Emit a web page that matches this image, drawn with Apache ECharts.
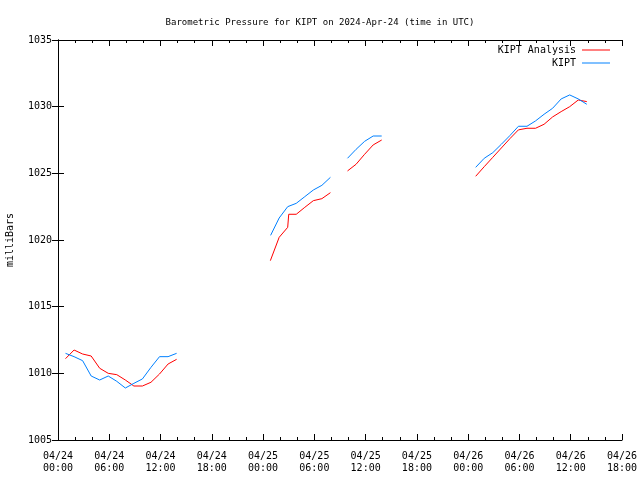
<!DOCTYPE html>
<html>
<head>
<meta charset="utf-8">
<script src="https://cdn.jsdelivr.net/npm/echarts@6/dist/echarts.min.js"></script>
<style>
html,body{margin:0;padding:0;background:#fff;}
#chart{width:640px;height:480px;}
</style>
</head>
<body>
<div id="chart"></div>
<script>
// Hours since 2024-04-24 00:00 UTC
const analysisHours = [0.88,1.88,2.88,3.88,4.88,5.88,6.88,7.88,8.88,9.88,10.88,11.88,12.88,13.88,
  18,
  24.85,25.88,26.88,27.0,27.88,28.88,29.88,30.88,31.88,
  32.88,
  33.88,34.88,35.88,36.88,37.88,
  43,
  48.88,49.88,50.88,51.88,52.88,53.88,54.88,55.88,56.88,57.88,58.88,59.88,60.88,61.88];
const analysisValues = [1011.1,1011.75,1011.45,1011.3,1010.38,1010.0,1009.9,1009.5,1009.05,1009.05,1009.33,1009.95,1010.7,1011.05,
  null,
  1018.45,1020.2,1020.95,1021.93,1021.93,1022.45,1022.95,1023.1,1023.55,
  null,
  1025.18,1025.68,1026.43,1027.13,1027.5,
  null,
  1024.78,1025.5,1026.2,1026.9,1027.6,1028.26,1028.38,1028.38,1028.68,1029.23,1029.63,1030.0,1030.5,1030.38];

const kiptHours = [0.88,1.88,2.88,3.88,4.88,5.88,6.88,7.88,8.88,9.88,10.88,11.88,12.88,13.88,
  18,
  24.88,25.88,26.88,27.88,28.88,29.88,30.88,31.88,
  32.88,
  33.88,34.88,35.88,36.88,37.88,
  43,
  48.88,49.88,50.88,51.88,52.88,53.88,54.88,55.88,56.88,57.88,58.88,59.88,60.88,61.88];
const kiptValues = [1011.5,1011.25,1010.95,1009.8,1009.5,1009.8,1009.4,1008.9,1009.25,1009.58,1010.45,1011.25,1011.25,1011.5,
  null,
  1020.35,1021.65,1022.5,1022.75,1023.25,1023.75,1024.1,1024.7,
  null,
  1026.13,1026.8,1027.4,1027.8,1027.8,
  null,
  1025.45,1026.13,1026.55,1027.18,1027.83,1028.53,1028.53,1028.93,1029.43,1029.88,1030.58,1030.88,1030.58,1030.18];

const xTickLabels = ["04/24\n00:00","04/24\n06:00","04/24\n12:00","04/24\n18:00",
  "04/25\n00:00","04/25\n06:00","04/25\n12:00","04/25\n18:00",
  "04/26\n00:00","04/26\n06:00","04/26\n12:00","04/26\n18:00"];
const yTickLabels = ["1005","1010","1015","1020","1025","1030","1035"];

const titleText = "Barometric Pressure for KIPT on 2024-Apr-24 (time in UTC)";
const seriesNames = ["KIPT Analysis","KIPT"];

const FONT = "DejaVu Sans Mono";
const pair = (xs, ys) => xs.map((x, i) => [x, ys[i]]);

const chart = echarts.init(document.getElementById('chart'), null, {renderer: 'canvas'});
const axisLine = {show: true, lineStyle: {color: '#000', width: 1}};
const tickCommon = {show: true, inside: true, length: 6, lineStyle: {color: '#000', width: 1}};
const minorCommon = {show: true, splitNumber: 3, length: 3, lineStyle: {color: '#000', width: 1}};

chart.setOption({
  animation: false,
  backgroundColor: '#fff',
  title: {
    text: titleText, left: 'center', top: 13,
    textStyle: {fontFamily: FONT, fontSize: 9, fontWeight: 'normal', color: '#000'}
  },
  legend: [
    {data: [seriesNames[0]], right: 25, top: 40, orient: 'vertical', align: 'right',
     icon: 'rect', itemWidth: 28, itemHeight: 1, itemGap: 4,
     textStyle: {fontFamily: FONT, fontSize: 10, color: '#000', padding: [0, 1, 0, 0]}},
    {data: [seriesNames[1]], right: 25, top: 53, orient: 'vertical', align: 'right',
     icon: 'rect', itemWidth: 28, itemHeight: 1, itemGap: 4,
     textStyle: {fontFamily: FONT, fontSize: 10, color: '#000', padding: [0, 1, 0, 0]}}
  ],
  grid: {left: 58, right: 18, top: 40, bottom: 40, containLabel: false, outerBoundsMode: 'none'},
  xAxis: [
    {type: 'value', min: 0, max: 66, interval: 6, position: 'bottom',
     axisLine: axisLine, axisTick: tickCommon, minorTick: minorCommon,
     splitLine: {show: false},
     axisLabel: {margin: 10, fontFamily: FONT, fontSize: 10, color: '#000', lineHeight: 12,
       formatter: v => xTickLabels[Math.round(v / 6)] || ''}},
    {type: 'value', min: 0, max: 66, interval: 6, position: 'top',
     axisLine: axisLine, axisTick: tickCommon, minorTick: minorCommon,
     splitLine: {show: false}, axisLabel: {show: false}}
  ],
  yAxis: [
    {type: 'value', min: 1005, max: 1035, interval: 5, position: 'left',
     name: 'milliBars', nameLocation: 'middle', nameGap: 43, nameRotate: 90,
     nameTextStyle: {fontFamily: FONT, fontSize: 10, color: '#000'},
     axisLine: axisLine, axisTick: tickCommon, splitLine: {show: false},
     axisLabel: {margin: 6, fontFamily: FONT, fontSize: 10, color: '#000',
       formatter: v => yTickLabels[Math.round((v - 1005) / 5)] || ''}},
    {type: 'value', min: 1005, max: 1035, interval: 5, position: 'right',
     axisLine: axisLine, axisTick: tickCommon, splitLine: {show: false},
     axisLabel: {show: false}}
  ],
  series: [
    {name: seriesNames[0], type: 'line', data: pair(analysisHours, analysisValues),
     showSymbol: false, symbol: 'none', connectNulls: false, color: '#ff0000',
     lineStyle: {color: '#ff0000', width: 1}},
    {name: seriesNames[1], type: 'line', data: pair(kiptHours, kiptValues),
     showSymbol: false, symbol: 'none', connectNulls: false, color: '#0080ff',
     lineStyle: {color: '#0080ff', width: 1}}
  ]
});
</script>
</body>
</html>
